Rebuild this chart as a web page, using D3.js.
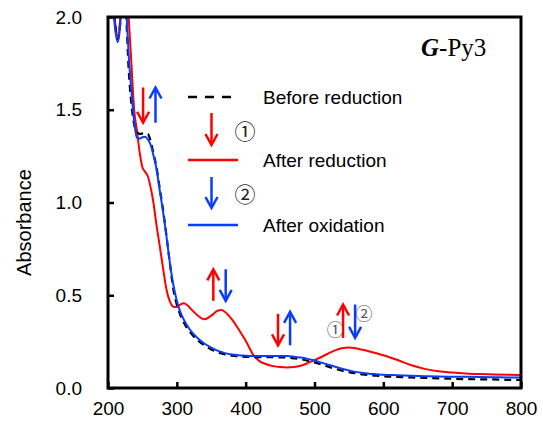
<!DOCTYPE html>
<html>
<head>
<meta charset="utf-8">
<script src="https://cdn.jsdelivr.net/npm/d3@7"></script>
<style>
  html, body { margin: 0; padding: 0; background: #fff; }
  svg { display: block; }
</style>
</head>
<body>
<div id="chart"></div>
<script>
// wavelength grid (nm) shared by the three spectra
const wavelengths = [200,205,210,214,218,222,226,230,234,238,242,246,250,254,258,262,
  266,270,275,280,285,290,295,300,305,310,315,320,330,340,350,360,
  365,370,380,390,400,405,410,420,430,440,450,460,470,480,490,500,
  510,520,530,540,550,560,570,580,590,600,620,640,660,680,700,720,
  740,760,780,800];

const absBefore = [2.6,2.2,1.97,1.88,1.98,2.3,2.05,1.72,1.53,1.42,1.38,1.37,1.372,1.375,1.37,1.33,
  1.265,1.2,1.08,0.96,0.82,0.67,0.53,0.45,0.395,0.355,0.322,0.297,0.258,0.23,0.208,0.192,
  0.186,0.181,0.174,0.17,0.168,0.167,0.167,0.166,0.166,0.166,0.165,0.164,0.16,0.155,0.147,0.138,
  0.127,0.115,0.104,0.094,0.086,0.079,0.073,0.069,0.066,0.063,0.06,0.057,0.055,0.052,0.05,0.048,
  0.047,0.046,0.044,0.043];

const absReduced = [2.6,2.2,1.98,1.9,2.0,2.35,2.3,2.0,1.75,1.5,1.39,1.27,1.19,1.165,1.14,1.08,
  1.0,0.89,0.77,0.645,0.53,0.465,0.438,0.437,0.45,0.457,0.447,0.428,0.392,0.37,0.39,0.418,
  0.42,0.41,0.37,0.315,0.255,0.22,0.185,0.145,0.128,0.118,0.113,0.111,0.113,0.12,0.134,0.15,
  0.167,0.186,0.203,0.214,0.218,0.214,0.206,0.197,0.187,0.177,0.152,0.124,0.103,0.09,0.083,0.078,
  0.075,0.073,0.071,0.07];

const absOxidized = [2.6,2.2,1.95,1.865,1.97,2.3,2.08,1.8,1.6,1.44,1.348,1.345,1.352,1.355,1.34,1.31,
  1.255,1.19,1.07,0.95,0.816,0.672,0.555,0.47,0.41,0.37,0.337,0.31,0.27,0.24,0.218,0.2,
  0.194,0.188,0.18,0.176,0.174,0.173,0.173,0.172,0.172,0.172,0.172,0.172,0.169,0.164,0.157,0.148,
  0.137,0.126,0.115,0.104,0.095,0.087,0.081,0.077,0.074,0.071,0.069,0.066,0.064,0.062,0.061,0.06,
  0.059,0.058,0.057,0.056];

const xTicks = [200, 300, 400, 500, 600, 700, 800];
const yTicks = [0.0, 0.5, 1.0, 1.5, 2.0];

// arrows in data coords: [wavelength, from A, to A, colour]
const arrows = [
  [251, 1.62, 1.43, 'red'], [269, 1.43, 1.62, 'blue'],
  [353, 0.47, 0.64, 'red'], [371, 0.64, 0.47, 'blue'],
  [447, 0.40, 0.23, 'red'], [464.5, 0.23, 0.41, 'blue'],
  [541.5, 0.27, 0.45, 'red'], [559, 0.45, 0.27, 'blue']
];

const colors = { red: '#ff0000', blue: '#0a3cff', black: '#000' };
const sans = '"Liberation Sans", Arial, sans-serif';
const cjk = '"Noto Sans CJK JP", "Noto Sans CJK SC", sans-serif';

const width = 543, height = 427;
const margin = { top: 17, right: 22, bottom: 39, left: 108 };

const svg = d3.select('#chart').append('svg')
  .attr('width', width)
  .attr('height', height)
  .style('font-family', sans);

const x = d3.scaleLinear().domain([200, 800]).range([margin.left, width - margin.right]);
const y = d3.scaleLinear().domain([0, 2]).range([height - margin.bottom, margin.top]);

svg.append('clipPath').attr('id', 'plotclip')
  .append('rect')
  .attr('x', margin.left).attr('y', margin.top)
  .attr('width', x(800) - x(200)).attr('height', y(0) - y(2));

const line = d3.line()
  .x((d, i) => x(wavelengths[i]))
  .y(d => y(d))
  .curve(d3.curveMonotoneX);

const plot = svg.append('g').attr('clip-path', 'url(#plotclip)');

plot.append('path').datum(absReduced)
  .attr('fill', 'none').attr('stroke', colors.red).attr('stroke-width', 2)
  .attr('d', line);
plot.append('path').datum(absBefore)
  .attr('fill', 'none').attr('stroke', colors.black).attr('stroke-width', 2.2)
  .attr('stroke-dasharray', '7,5')
  .attr('d', line);
plot.append('path').datum(absOxidized)
  .attr('fill', 'none').attr('stroke', colors.blue).attr('stroke-width', 2)
  .attr('d', line);

// axes, ticks pointing inward
const xAxis = svg.append('g')
  .attr('transform', `translate(0,${y(0)})`)
  .call(d3.axisBottom(x).tickValues(xTicks).tickSizeInner(-6).tickSizeOuter(0).tickPadding(14)
    .tickFormat(d3.format('d')));
xAxis.select('.domain').remove();
xAxis.selectAll('line').attr('stroke', '#000').attr('stroke-width', 2.5);
xAxis.selectAll('text').attr('fill', '#000')
  .style('font-size', '19px').style('font-family', sans);

const yAxis = svg.append('g')
  .attr('transform', `translate(${x(200)},0)`)
  .call(d3.axisLeft(y).tickValues(yTicks).tickSizeInner(-6).tickSizeOuter(0).tickPadding(26)
    .tickFormat(d3.format('.1f')));
yAxis.select('.domain').remove();
yAxis.selectAll('line').attr('stroke', '#000').attr('stroke-width', 2.5);
yAxis.selectAll('text').attr('fill', '#000')
  .style('font-size', '19px').style('font-family', sans);

// frame
svg.append('rect')
  .attr('x', x(200)).attr('y', y(2))
  .attr('width', x(800) - x(200)).attr('height', y(0) - y(2))
  .attr('fill', 'none').attr('stroke', '#000').attr('stroke-width', 3);

svg.append('text')
  .attr('transform', `translate(24,${(y(0) + y(2)) / 2 + 20}) rotate(-90)`)
  .attr('text-anchor', 'middle')
  .attr('dominant-baseline', 'central')
  .style('font-size', '20px')
  .text('Absorbance');

// title
const title = svg.append('text')
  .attr('x', 421).attr('y', 56)
  .style('font-family', '"Liberation Serif", "Times New Roman", serif')
  .style('font-size', '25px');
title.append('tspan').style('font-weight', 'bold').style('font-style', 'italic').text('G');
title.append('tspan').text('-Py3');

function drawArrow(g, x0, y0, y1, color) {
  const dir = y1 > y0 ? 1 : -1;
  g.append('line')
    .attr('x1', x0).attr('y1', y0).attr('x2', x0).attr('y2', y1 - dir * 1)
    .attr('stroke', color).attr('stroke-width', 2.5);
  g.append('path')
    .attr('d', `M${x0 - 6},${y1 - dir * 11}L${x0},${y1}L${x0 + 6},${y1 - dir * 11}`)
    .attr('fill', 'none').attr('stroke', color).attr('stroke-width', 2.5)
    .attr('stroke-linejoin', 'miter');
}

const arrowG = svg.append('g');
arrows.forEach(a => drawArrow(arrowG, x(a[0]), y(a[1]), y(a[2]), colors[a[3]]));

function circled(g, cx, cy, label, size, color) {
  g.append('text').attr('x', cx).attr('y', cy)
    .attr('text-anchor', 'middle').attr('dominant-baseline', 'central')
    .style('font-family', cjk).style('font-size', size + 'px')
    .attr('fill', color).text(label);
}

// circled step numbers beside the 550 nm arrows
circled(svg, x(530), y(0.32), '①', 17, '#555');
circled(svg, x(572), y(0.405), '②', 17, '#555');

// legend
const legend = svg.append('g');
const lx0 = 188, lx1 = 238, tx = 263;
legend.append('line').attr('x1', lx0).attr('x2', lx1).attr('y1', 97).attr('y2', 97)
  .attr('stroke', '#000').attr('stroke-width', 2.5).attr('stroke-dasharray', '9,8');
legend.append('text').attr('x', tx).attr('y', 97).attr('dominant-baseline', 'central')
  .style('font-size', '19px').text('Before reduction');

drawArrow(legend, 211.5, 113, 145, colors.red);
circled(legend, 245, 130, '①', 21, '#222');

legend.append('line').attr('x1', lx0).attr('x2', lx1).attr('y1', 160).attr('y2', 160)
  .attr('stroke', colors.red).attr('stroke-width', 2.5);
legend.append('text').attr('x', tx).attr('y', 160).attr('dominant-baseline', 'central')
  .style('font-size', '19px').text('After reduction');

drawArrow(legend, 211.5, 177, 208, colors.blue);
circled(legend, 245, 193, '②', 21, '#222');

legend.append('line').attr('x1', lx0).attr('x2', lx1).attr('y1', 225).attr('y2', 225)
  .attr('stroke', colors.blue).attr('stroke-width', 2.5);
legend.append('text').attr('x', tx).attr('y', 225).attr('dominant-baseline', 'central')
  .style('font-size', '19px').text('After oxidation');
</script>
</body>
</html>
